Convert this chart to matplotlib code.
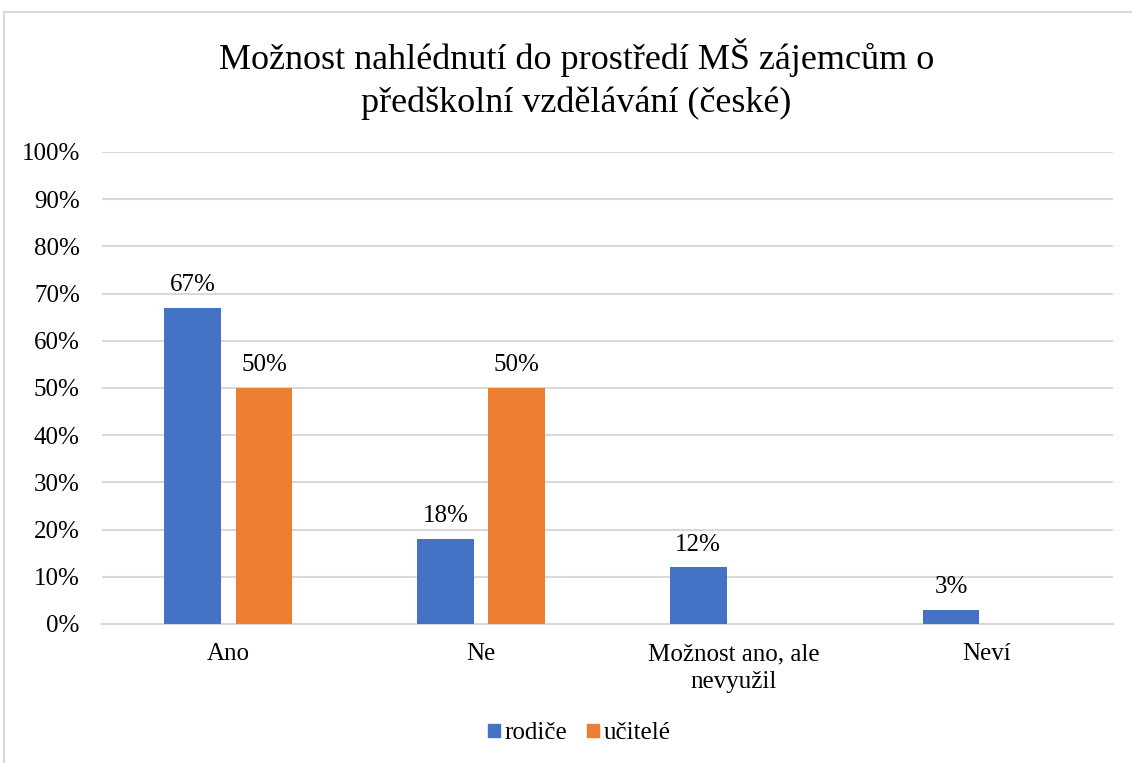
import matplotlib.pyplot as plt
from matplotlib.patches import Patch, Rectangle
import numpy as np

# data
categories = ["Ano", "Ne", "Možnost ano, ale\nnevyužil", "Neví"]
rodice = [67, 18, 12, 3]
ucitele = [50, 50, 0, 0]
series_names = ["rodiče", "učitelé"]
colors = ["#4472C4", "#ED7D31"]
title = "Možnost nahlédnutí do prostředí MŠ zájemcům o\npředškolní vzdělávání (české)"

plt.rcParams['font.family'] = ['Liberation Serif', 'DejaVu Serif']

fig = plt.figure(figsize=(11.32, 7.63), dpi=100)
# light frame of the chart area (top and left edges visible)
fig.patches.append(Rectangle((4 / 1132, -0.1), 1.2, 1.1 - 12 / 763, transform=fig.transFigure,
                             fill=False, edgecolor="#D9D9D9", linewidth=1.5))

ax = fig.add_axes([0.0901, 0.1822, 0.8931, 0.6186])
x = np.arange(len(categories))
w = 0.225
off = 0.141

for vals, shift, col in [(rodice, -off, colors[0]), (ucitele, off, colors[1])]:
    bars = ax.bar(x + shift, vals, width=w, color=col, zorder=3)
    for b, v in zip(bars, vals):
        if v > 0:
            ax.annotate(f"{v}%", (b.get_x() + b.get_width() / 2, v), xytext=(0, 8.5),
                        textcoords="offset points", ha="center", va="bottom", fontsize=18)

ax.set_xlim(-0.5, len(categories) - 0.5)
ax.set_ylim(0, 100)
ax.set_yticks(range(0, 101, 10))
ax.set_yticklabels([f"{t}%" for t in range(0, 101, 10)], fontsize=18)
ax.set_xticks(x)
ax.set_xticklabels(categories, fontsize=18, linespacing=1.35)
ax.tick_params(axis="both", length=0)
ax.tick_params(axis="y", pad=16)
ax.tick_params(axis="x", pad=14)
ax.grid(axis="y", color="#D9D9D9", linewidth=1.5, zorder=0)
for s in ["top", "right", "left"]:
    ax.spines[s].set_visible(False)
ax.spines["bottom"].set_color("#D9D9D9")
ax.spines["bottom"].set_linewidth(1.5)

fig.text(0.509, 0.95, title, ha="center", va="top", fontsize=26, linespacing=1.35)

handles = [Patch(color=c, label=n) for c, n in zip(colors, series_names)]
fig.legend(handles=handles, loc="center", bbox_to_anchor=(0.512, 0.039), ncol=2, frameon=False,
           fontsize=18, handlelength=0.45, handleheight=0.45, handletextpad=0.2, columnspacing=0.8)

fig.savefig("out.png", dpi=100)
